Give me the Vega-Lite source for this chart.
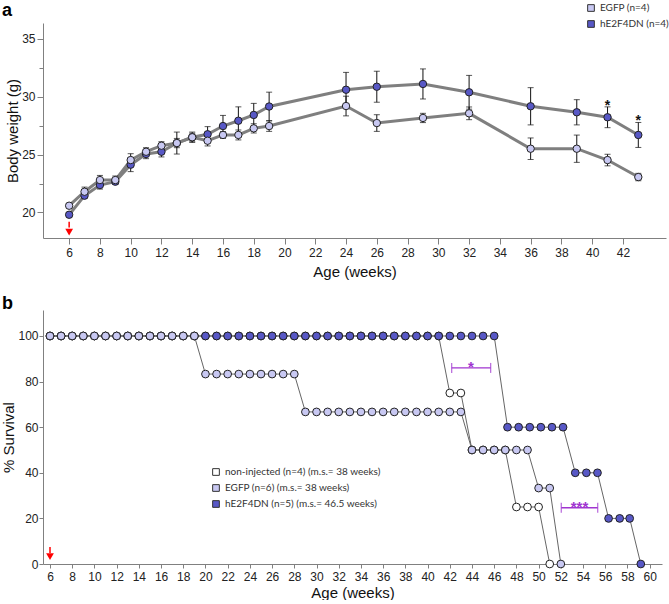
{
  "$schema": "https://vega.github.io/schema/vega-lite/v6.json",
  "padding": {"left": 1, "top": 2, "right": 0, "bottom": 0},
  "spacing": 16,
  "config": {
    "font": "Liberation Sans",
    "view": {"stroke": null},
    "axis": {"grid": false, "labelOverlap": false, "labelFlush": false, "domainColor": "#808080", "tickColor": "#808080", "labelColor": "#222", "labelFontSize": 12, "titleFontSize": 15, "titleFontWeight": "normal", "titleColor": "#111", "labelFont": "Liberation Sans", "titleFont": "Liberation Sans"},
    "legend": {"labelFont": "Lato", "labelFontSize": 10, "labelColor": "#333", "symbolType": "square", "symbolStrokeColor": "#333", "symbolStrokeWidth": 1, "symbolSize": 45, "padding": 0}
  },
  "resolve": {"scale": {"fill": "independent"}, "legend": {"fill": "independent"}},
  "datasets": {
    "weight": [
      {"week": 6, "group": "hE2F4DN (n=4)", "mean": 19.8, "sem": 0.2},
      {"week": 7, "group": "hE2F4DN (n=4)", "mean": 21.45, "sem": 0.2},
      {"week": 8, "group": "hE2F4DN (n=4)", "mean": 22.37, "sem": 0.35},
      {"week": 9, "group": "hE2F4DN (n=4)", "mean": 22.66, "sem": 0.2},
      {"week": 10, "group": "hE2F4DN (n=4)", "mean": 24.13, "sem": 0.6},
      {"week": 11, "group": "hE2F4DN (n=4)", "mean": 25.05, "sem": 0.4},
      {"week": 12, "group": "hE2F4DN (n=4)", "mean": 25.25, "sem": 0.45},
      {"week": 13, "group": "hE2F4DN (n=4)", "mean": 26.0, "sem": 0.95},
      {"week": 14, "group": "hE2F4DN (n=4)", "mean": 26.5, "sem": 0.45},
      {"week": 15, "group": "hE2F4DN (n=4)", "mean": 26.76, "sem": 0.66},
      {"week": 16, "group": "hE2F4DN (n=4)", "mean": 27.47, "sem": 0.92},
      {"week": 17, "group": "hE2F4DN (n=4)", "mean": 27.93, "sem": 1.2},
      {"week": 18, "group": "hE2F4DN (n=4)", "mean": 28.43, "sem": 1.0},
      {"week": 19, "group": "hE2F4DN (n=4)", "mean": 29.16, "sem": 1.24},
      {"week": 24, "group": "hE2F4DN (n=4)", "mean": 30.61, "sem": 1.5},
      {"week": 26, "group": "hE2F4DN (n=4)", "mean": 30.87, "sem": 1.34},
      {"week": 29, "group": "hE2F4DN (n=4)", "mean": 31.11, "sem": 1.3},
      {"week": 32, "group": "hE2F4DN (n=4)", "mean": 30.39, "sem": 1.46},
      {"week": 36, "group": "hE2F4DN (n=4)", "mean": 29.18, "sem": 1.61},
      {"week": 39, "group": "hE2F4DN (n=4)", "mean": 28.66, "sem": 1.09},
      {"week": 41, "group": "hE2F4DN (n=4)", "mean": 28.23, "sem": 0.9},
      {"week": 43, "group": "hE2F4DN (n=4)", "mean": 26.7, "sem": 1.08},
      {"week": 6, "group": "EGFP (n=4)", "mean": 20.58, "sem": 0.2},
      {"week": 7, "group": "EGFP (n=4)", "mean": 21.79, "sem": 0.4},
      {"week": 8, "group": "EGFP (n=4)", "mean": 22.8, "sem": 0.4},
      {"week": 9, "group": "EGFP (n=4)", "mean": 22.8, "sem": 0.35},
      {"week": 10, "group": "EGFP (n=4)", "mean": 24.53, "sem": 0.55},
      {"week": 11, "group": "EGFP (n=4)", "mean": 25.25, "sem": 0.35},
      {"week": 12, "group": "EGFP (n=4)", "mean": 25.77, "sem": 0.35},
      {"week": 13, "group": "EGFP (n=4)", "mean": 26.0, "sem": 0.4},
      {"week": 14, "group": "EGFP (n=4)", "mean": 26.5, "sem": 0.35},
      {"week": 15, "group": "EGFP (n=4)", "mean": 26.2, "sem": 0.45},
      {"week": 16, "group": "EGFP (n=4)", "mean": 26.7, "sem": 0.3},
      {"week": 17, "group": "EGFP (n=4)", "mean": 26.7, "sem": 0.43},
      {"week": 18, "group": "EGFP (n=4)", "mean": 27.27, "sem": 0.4},
      {"week": 19, "group": "EGFP (n=4)", "mean": 27.47, "sem": 0.46},
      {"week": 24, "group": "EGFP (n=4)", "mean": 29.2, "sem": 0.85},
      {"week": 26, "group": "EGFP (n=4)", "mean": 27.73, "sem": 0.72},
      {"week": 29, "group": "EGFP (n=4)", "mean": 28.17, "sem": 0.4},
      {"week": 32, "group": "EGFP (n=4)", "mean": 28.57, "sem": 0.55},
      {"week": 36, "group": "EGFP (n=4)", "mean": 25.51, "sem": 0.93},
      {"week": 39, "group": "EGFP (n=4)", "mean": 25.51, "sem": 1.18},
      {"week": 41, "group": "EGFP (n=4)", "mean": 24.53, "sem": 0.5},
      {"week": 43, "group": "EGFP (n=4)", "mean": 23.06, "sem": 0.32}
    ],
    "stars": [
      {"week": 41, "y": 29.12, "label": "*"},
      {"week": 43, "y": 27.79, "label": "*"}
    ],
    "arrowA": [{"week": 6, "top": 19.2, "bot": 18.7, "head": 18.3}],
    "arrowB": [{"week": 6, "top": 7.5, "bot": 4.8, "head": 3.2}],
    "brackets": [
      {"x1": 42.17, "x2": 45.68, "y": 86.0, "mid": 43.9, "label": "*"},
      {"x1": 52.04, "x2": 55.32, "y": 24.66, "mid": 53.68, "label": "***"}
    ],
    "surv": [
      {"g": "N", "w": 6, "s": 100}, {"g": "N", "w": 7, "s": 100}, {"g": "N", "w": 8, "s": 100}, {"g": "N", "w": 9, "s": 100},
      {"g": "N", "w": 10, "s": 100}, {"g": "N", "w": 11, "s": 100}, {"g": "N", "w": 12, "s": 100}, {"g": "N", "w": 13, "s": 100},
      {"g": "N", "w": 14, "s": 100}, {"g": "N", "w": 15, "s": 100}, {"g": "N", "w": 16, "s": 100}, {"g": "N", "w": 17, "s": 100},
      {"g": "N", "w": 18, "s": 100}, {"g": "N", "w": 19, "s": 100}, {"g": "N", "w": 20, "s": 100}, {"g": "N", "w": 21, "s": 100},
      {"g": "N", "w": 22, "s": 100}, {"g": "N", "w": 23, "s": 100}, {"g": "N", "w": 24, "s": 100}, {"g": "N", "w": 25, "s": 100},
      {"g": "N", "w": 26, "s": 100}, {"g": "N", "w": 27, "s": 100}, {"g": "N", "w": 28, "s": 100}, {"g": "N", "w": 29, "s": 100},
      {"g": "N", "w": 30, "s": 100}, {"g": "N", "w": 31, "s": 100}, {"g": "N", "w": 32, "s": 100}, {"g": "N", "w": 33, "s": 100},
      {"g": "N", "w": 34, "s": 100}, {"g": "N", "w": 35, "s": 100}, {"g": "N", "w": 36, "s": 100}, {"g": "N", "w": 37, "s": 100},
      {"g": "N", "w": 38, "s": 100}, {"g": "N", "w": 39, "s": 100}, {"g": "N", "w": 40, "s": 100}, {"g": "N", "w": 41, "s": 100},
      {"g": "N", "w": 42, "s": 75}, {"g": "N", "w": 43, "s": 75},
      {"g": "N", "w": 44, "s": 50}, {"g": "N", "w": 45, "s": 50}, {"g": "N", "w": 46, "s": 50}, {"g": "N", "w": 47, "s": 50},
      {"g": "N", "w": 48, "s": 25}, {"g": "N", "w": 49, "s": 25}, {"g": "N", "w": 50, "s": 25},
      {"g": "N", "w": 51, "s": 0},
      {"g": "H", "w": 6, "s": 100}, {"g": "H", "w": 7, "s": 100}, {"g": "H", "w": 8, "s": 100}, {"g": "H", "w": 9, "s": 100},
      {"g": "H", "w": 10, "s": 100}, {"g": "H", "w": 11, "s": 100}, {"g": "H", "w": 12, "s": 100}, {"g": "H", "w": 13, "s": 100},
      {"g": "H", "w": 14, "s": 100}, {"g": "H", "w": 15, "s": 100}, {"g": "H", "w": 16, "s": 100}, {"g": "H", "w": 17, "s": 100},
      {"g": "H", "w": 18, "s": 100}, {"g": "H", "w": 19, "s": 100}, {"g": "H", "w": 20, "s": 100}, {"g": "H", "w": 21, "s": 100},
      {"g": "H", "w": 22, "s": 100}, {"g": "H", "w": 23, "s": 100}, {"g": "H", "w": 24, "s": 100}, {"g": "H", "w": 25, "s": 100},
      {"g": "H", "w": 26, "s": 100}, {"g": "H", "w": 27, "s": 100}, {"g": "H", "w": 28, "s": 100}, {"g": "H", "w": 29, "s": 100},
      {"g": "H", "w": 30, "s": 100}, {"g": "H", "w": 31, "s": 100}, {"g": "H", "w": 32, "s": 100}, {"g": "H", "w": 33, "s": 100},
      {"g": "H", "w": 34, "s": 100}, {"g": "H", "w": 35, "s": 100}, {"g": "H", "w": 36, "s": 100}, {"g": "H", "w": 37, "s": 100},
      {"g": "H", "w": 38, "s": 100}, {"g": "H", "w": 39, "s": 100}, {"g": "H", "w": 40, "s": 100}, {"g": "H", "w": 41, "s": 100},
      {"g": "H", "w": 42, "s": 100}, {"g": "H", "w": 43, "s": 100}, {"g": "H", "w": 44, "s": 100}, {"g": "H", "w": 45, "s": 100},
      {"g": "H", "w": 46, "s": 100},
      {"g": "H", "w": 47.2, "s": 60}, {"g": "H", "w": 48.2, "s": 60}, {"g": "H", "w": 49.2, "s": 60}, {"g": "H", "w": 50.2, "s": 60},
      {"g": "H", "w": 51.2, "s": 60}, {"g": "H", "w": 52.2, "s": 60},
      {"g": "H", "w": 53.3, "s": 40}, {"g": "H", "w": 54.3, "s": 40}, {"g": "H", "w": 55.3, "s": 40},
      {"g": "H", "w": 56.3, "s": 20}, {"g": "H", "w": 57.3, "s": 20}, {"g": "H", "w": 58.2, "s": 20},
      {"g": "H", "w": 59.2, "s": 0},
      {"g": "E", "w": 6, "s": 100}, {"g": "E", "w": 7, "s": 100}, {"g": "E", "w": 8, "s": 100}, {"g": "E", "w": 9, "s": 100},
      {"g": "E", "w": 10, "s": 100}, {"g": "E", "w": 11, "s": 100}, {"g": "E", "w": 12, "s": 100}, {"g": "E", "w": 13, "s": 100},
      {"g": "E", "w": 14, "s": 100}, {"g": "E", "w": 15, "s": 100}, {"g": "E", "w": 16, "s": 100}, {"g": "E", "w": 17, "s": 100},
      {"g": "E", "w": 18, "s": 100}, {"g": "E", "w": 19, "s": 100},
      {"g": "E", "w": 20, "s": 83.3}, {"g": "E", "w": 21, "s": 83.3}, {"g": "E", "w": 22, "s": 83.3}, {"g": "E", "w": 23, "s": 83.3},
      {"g": "E", "w": 24, "s": 83.3}, {"g": "E", "w": 25, "s": 83.3}, {"g": "E", "w": 26, "s": 83.3}, {"g": "E", "w": 27, "s": 83.3},
      {"g": "E", "w": 28, "s": 83.3},
      {"g": "E", "w": 29, "s": 66.7}, {"g": "E", "w": 30, "s": 66.7}, {"g": "E", "w": 31, "s": 66.7}, {"g": "E", "w": 32, "s": 66.7},
      {"g": "E", "w": 33, "s": 66.7}, {"g": "E", "w": 34, "s": 66.7}, {"g": "E", "w": 35, "s": 66.7}, {"g": "E", "w": 36, "s": 66.7},
      {"g": "E", "w": 37, "s": 66.7}, {"g": "E", "w": 38, "s": 66.7}, {"g": "E", "w": 39, "s": 66.7}, {"g": "E", "w": 40, "s": 66.7},
      {"g": "E", "w": 41, "s": 66.7}, {"g": "E", "w": 42, "s": 66.7}, {"g": "E", "w": 43, "s": 66.7},
      {"g": "E", "w": 44, "s": 50}, {"g": "E", "w": 45, "s": 50}, {"g": "E", "w": 46, "s": 50}, {"g": "E", "w": 47, "s": 50},
      {"g": "E", "w": 48, "s": 50}, {"g": "E", "w": 49, "s": 50},
      {"g": "E", "w": 50, "s": 33.3}, {"g": "E", "w": 51, "s": 33.3},
      {"g": "E", "w": 52, "s": 0}
    ]
  },
  "vconcat": [
    {
      "width": 623,
      "height": 215,
      "title": {"text": "a", "anchor": "start", "frame": "group", "fontSize": 18, "fontWeight": "bold", "color": "#000", "font": "Liberation Sans", "dx": -41, "offset": -17},
      "layer": [
        {
          "data": {"name": "weight"},
          "mark": {"type": "line", "color": "#7f7f7f", "strokeWidth": 3},
          "encoding": {
            "x": {"field": "week", "type": "quantitative", "title": "Age (weeks)", "scale": {"domain": [4.3, 44.8], "nice": false, "zero": false},
                  "axis": {"title": "Age (weeks)", "values": [6,8,10,12,14,16,18,20,22,24,26,28,30,32,34,36,38,40,42], "format": "d", "tickCount": 100, "labelOverlap": false, "labelFlush": false, "tickSize": 6, "labelPadding": 3, "titlePadding": 6}},
            "y": {"field": "mean", "type": "quantitative", "title": "Body weight (g)", "scale": {"domain": [17.79, 36.38], "nice": false, "zero": false},
                  "axis": {"title": "Body weight (g)", "values": [20,22.5,25,27.5,30,32.5,35], "format": "d", "tickCount": 100, "labelOverlap": false, "labelExpr": "datum.value % 5 === 0 ? datum.label : ''", "tickSize": {"condition": {"test": "datum.value % 5 !== 0", "value": 4}, "value": 6}, "labelPadding": 2, "titlePadding": 1}},
            "detail": {"field": "group"}
          }
        },
        {
          "data": {"name": "weight"},
          "mark": {"type": "errorbar", "color": "#111", "thickness": 1, "ticks": {"size": 6}},
          "encoding": {
            "x": {"field": "week", "type": "quantitative", "title": "Age (weeks)"},
            "y": {"field": "mean", "type": "quantitative", "title": "Body weight (g)"},
            "yError": {"field": "sem"}
          }
        },
        {
          "data": {"name": "weight"},
          "mark": {"type": "point", "shape": "circle", "filled": true, "size": 55, "stroke": "#222", "strokeWidth": 1, "opacity": 1},
          "encoding": {
            "x": {"field": "week", "type": "quantitative", "title": "Age (weeks)"},
            "y": {"field": "mean", "type": "quantitative", "title": "Body weight (g)"},
            "fill": {"field": "group", "type": "nominal", "scale": {"domain": ["EGFP (n=4)", "hE2F4DN (n=4)"], "range": ["#c8c8f2", "#5858c6"]},
                     "legend": {"title": null, "orient": "none", "legendX": 543, "legendY": -20, "rowPadding": 4}}
          }
        },
        {
          "data": {"name": "stars"},
          "mark": {"type": "text", "fontSize": 14, "fontWeight": "bold", "color": "#111", "baseline": "alphabetic", "dy": 3},
          "encoding": {
            "x": {"field": "week", "type": "quantitative", "title": "Age (weeks)"},
            "y": {"field": "y", "type": "quantitative", "title": "Body weight (g)"},
            "text": {"field": "label"}
          }
        },
        {
          "data": {"name": "arrowA"},
          "mark": {"type": "rule", "color": "#ff0000", "strokeWidth": 1.5},
          "encoding": {
            "x": {"field": "week", "type": "quantitative", "title": "Age (weeks)"},
            "y": {"field": "top", "type": "quantitative", "title": "Body weight (g)"},
            "y2": {"field": "bot"}
          }
        },
        {
          "data": {"name": "arrowA"},
          "mark": {"type": "point", "shape": "triangle-down", "filled": true, "color": "#ff0000", "size": 60, "opacity": 1},
          "encoding": {
            "x": {"field": "week", "type": "quantitative", "title": "Age (weeks)"},
            "y": {"field": "head", "type": "quantitative", "title": "Body weight (g)"}
          }
        }
      ]
    },
    {
      "width": 619,
      "height": 254,
      "title": {"text": "b", "anchor": "start", "frame": "group", "fontSize": 18, "fontWeight": "bold", "color": "#000", "font": "Liberation Sans", "dx": -41, "offset": -3},
      "layer": [
        {
          "data": {"name": "surv"},
          "mark": {"type": "line", "color": "#666", "strokeWidth": 1},
          "encoding": {
            "x": {"field": "w", "type": "quantitative", "title": "Age (weeks)", "scale": {"domain": [5.37, 61.11], "nice": false, "zero": false},
                  "axis": {"title": "Age (weeks)", "values": [6,8,10,12,14,16,18,20,22,24,26,28,30,32,34,36,38,40,42,44,46,48,50,52,54,56,58,60], "format": "d", "tickCount": 100, "labelOverlap": false, "labelFlush": false, "tickSize": 4, "labelPadding": 3, "titlePadding": 3}},
            "y": {"field": "s", "type": "quantitative", "title": "% Survival", "scale": {"domain": [0, 111.4], "nice": false},
                  "axis": {"title": "% Survival", "values": [0,20,40,60,80,100], "format": "d", "tickCount": 100, "tickSize": 4, "labelPadding": 1, "titlePadding": 1}},
            "detail": {"field": "g"}
          }
        },
        {
          "data": {"name": "surv"},
          "mark": {"type": "point", "shape": "circle", "filled": true, "size": 60, "stroke": "#222", "strokeWidth": 1, "opacity": 1},
          "encoding": {
            "x": {"field": "w", "type": "quantitative", "title": "Age (weeks)"},
            "y": {"field": "s", "type": "quantitative", "title": "% Survival"},
            "fill": {"field": "g", "type": "nominal", "scale": {"domain": ["N", "E", "H"], "range": ["#ffffff", "#c8c8f2", "#5858c6"]},
                     "legend": {"title": null, "orient": "none", "legendX": 168, "legendY": 157, "rowPadding": 4,
                                "labelExpr": "datum.label == 'N' ? 'non-injected (n=4) (m.s.= 38 weeks)' : datum.label == 'E' ? 'EGFP (n=6) (m.s.= 38 weeks)' : 'hE2F4DN (n=5) (m.s.= 46.5 weeks)'"}}
          }
        },
        {
          "data": {"name": "brackets"},
          "mark": {"type": "errorbar", "color": "#a035d0", "thickness": 1.3, "ticks": {"size": 10}},
          "encoding": {
            "x": {"field": "x1", "type": "quantitative", "title": "Age (weeks)"},
            "x2": {"field": "x2"},
            "y": {"field": "y", "type": "quantitative", "title": "% Survival"}
          }
        },
        {
          "data": {"name": "brackets"},
          "mark": {"type": "text", "fontSize": 15, "fontWeight": "bold", "color": "#a035d0", "baseline": "alphabetic", "dy": 4},
          "encoding": {
            "x": {"field": "mid", "type": "quantitative", "title": "Age (weeks)"},
            "y": {"field": "y", "type": "quantitative", "title": "% Survival"},
            "text": {"field": "label"}
          }
        },
        {
          "data": {"name": "arrowB"},
          "mark": {"type": "rule", "color": "#ff0000", "strokeWidth": 1.5},
          "encoding": {
            "x": {"field": "week", "type": "quantitative", "title": "Age (weeks)"},
            "y": {"field": "top", "type": "quantitative", "title": "% Survival"},
            "y2": {"field": "bot"}
          }
        },
        {
          "data": {"name": "arrowB"},
          "mark": {"type": "point", "shape": "triangle-down", "filled": true, "color": "#ff0000", "size": 60, "opacity": 1},
          "encoding": {
            "x": {"field": "week", "type": "quantitative", "title": "Age (weeks)"},
            "y": {"field": "head", "type": "quantitative", "title": "% Survival"}
          }
        }
      ]
    }
  ]
}
